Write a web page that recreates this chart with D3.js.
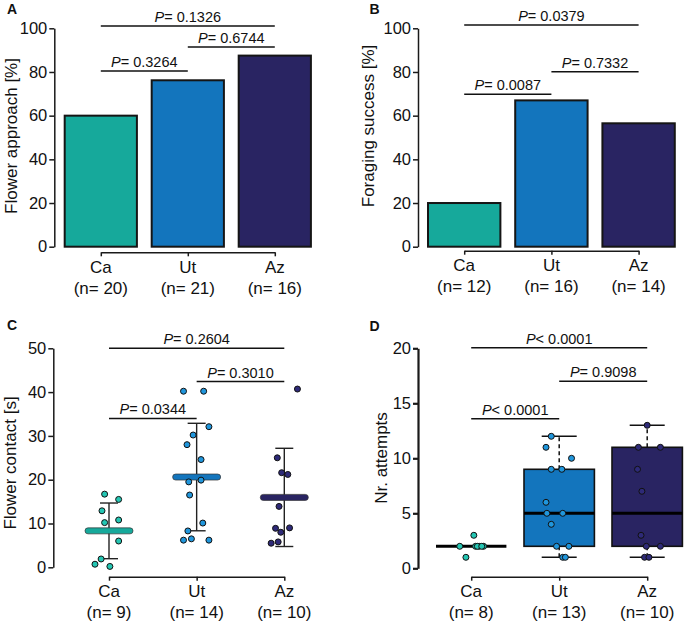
<!DOCTYPE html>
<html>
<head>
<meta charset="utf-8">
<script src="https://cdn.jsdelivr.net/npm/d3@7"></script>
<style>
body{margin:0;background:#fff}
text{font-family:"Liberation Sans",Arial,Helvetica,sans-serif;fill:#111}
</style>
</head>
<body>
<svg id="fig" width="686" height="625"></svg>
<script>
var cats = ["Ca","Ut","Az"];
var barColors = ["#16a99b","#1375bd","#292462"];
var dotColors = ["#24c6b3","#2096dc","#2e2a78"];

// A - flower approach (%)
var nA = [20,21,16];
var approach = [60,76.2,87.5];
var sigA = [[0,1,"= 0.3264",80.4],[1,2,"= 0.6744",91.4],[0,2,"= 0.1326",101]];

// B - foraging success (%)
var nB = [12,16,14];
var success = [20,67,56.5];
var sigB = [[0,1,"= 0.0087",69.8],[1,2,"= 0.7332",80.1],[0,2,"= 0.0379",101.5]];

// C - flower contact (s)
var nC = [9,14,10];
var contactCa = [16.7,15.5,12.9,10.2,10.8,6.0,1.9,0.7,0.2];
var contactUt = [40.2,40.2,32.1,30.2,28.0,24.6,19.5,19.9,16.5,10.1,8.3,6.2,6.5,6.2];
var contactAz = [40.7,25.0,21.6,21.2,13.9,8.9,9.0,8.0,5.5,5.8];
var sigC = [[0,1,"= 0.0344",34],[1,2,"= 0.3010",42.4],[0,2,"= 0.2604",50]];
// horizontal spread of the dots, fraction of category step
var jitCa = [-0.05,0.11,-0.08,-0.05,0.11,0.11,-0.09,-0.16,0.01];
var jitUt = [-0.15,0.08,0.14,-0.04,-0.11,0.05,-0.09,0.05,-0.08,0.07,-0.10,-0.15,-0.06,0.14];
var jitAz = [0.15,-0.08,-0.03,0.04,-0.06,-0.10,0.06,-0.04,-0.15,-0.07];

// D - number of attempts
var nD = [8,13,10];
var attCa = [3,2,2,2,2,2,2,1];
var attUt = [12,11,10,9,9,6,5,5,4,2,2,1,1];
var attAz = [13,11,11,9,7,3,2,2,1,1];
var sigD = [[0,1,"< 0.0001",13.6],[1,2,"= 0.9098",17],[0,2,"< 0.0001",20.05]];
var jitDCa = [0.03,-0.13,0.05,0.09,0.14,0.07,0.12,-0.06];
var jitDUt = [-0.09,-0.15,0.14,-0.09,0.03,-0.15,-0.14,0.04,-0.09,-0.03,0.11,0.04,0.07];
var jitDAz = [0,-0.10,0.15,-0.11,-0.06,-0.07,-0.01,0.15,-0.03,0.02];

var svg = d3.select("#fig");

function yAxis(x, y, vals, w){
    var g = svg.append("g").attr("transform","translate("+x+",0)")
        .call(d3.axisLeft(y).tickValues(vals).tickSize(5).tickSizeOuter(0).tickPadding(2));
    g.select(".domain").attr("stroke","#1a1a1a").attr("stroke-width",w);
    g.selectAll(".tick line").attr("stroke","#1a1a1a").attr("stroke-width",w);
    g.selectAll(".tick text").style("font-size","16.5px").attr("fill","#111");
}

function xAxis(xc, yPos, ns){
    var g = svg.append("g").attr("transform","translate(0,"+yPos+")")
        .call(d3.axisBottom(xc).tickSize(4).tickSizeOuter(0).tickFormat(""));
    g.select(".domain").attr("stroke","#1a1a1a").attr("stroke-width",1.5);
    g.selectAll(".tick line").attr("stroke","#1a1a1a").attr("stroke-width",1.5);
    cats.forEach(function(c,i){
        svg.append("text").attr("x",xc(c)).attr("y",yPos+20.5)
            .attr("text-anchor","middle").style("font-size","17px").text(c);
        svg.append("text").attr("x",xc(c)).attr("y",yPos+41.5)
            .attr("text-anchor","middle").style("font-size","17px").text("(n= "+ns[i]+")");
    });
}

function sigBars(xc, y, list){
    list.forEach(function(s){
        var x1 = xc(cats[s[0]]), x2 = xc(cats[s[1]]), yy = y(s[3]);
        svg.append("line").attr("x1",x1).attr("x2",x2).attr("y1",yy).attr("y2",yy)
            .attr("stroke","#111").attr("stroke-width",1.5);
        var t = svg.append("text").attr("x",(x1+x2)/2).attr("y",yy-4)
            .attr("text-anchor","middle").style("font-size","14.5px");
        t.append("tspan").style("font-style","italic").text("P");
        t.append("tspan").text(s[2]);
    });
}

function yTitle(txt, cx, cy){
    svg.append("text").attr("transform","translate("+cx+","+cy+") rotate(-90)")
        .attr("text-anchor","middle").attr("dy","0.35em")
        .style("font-size","17px").text(txt);
}

function letter(t, x, y){
    svg.append("text").attr("x",x).attr("y",y).style("font-size","14px")
        .style("font-weight","bold").text(t);
}

function barPanel(vals, ns, sig, xr, yBottom, axisX, axisY, title, tx, ty){
    var x = d3.scaleBand().domain(cats).range(xr).paddingInner(0.17).paddingOuter(0.085);
    var y = d3.scaleLinear().domain([0,100]).range([yBottom,28.3]);
    var xc = d3.scalePoint().domain(cats)
        .range([x("Ca")+x.bandwidth()/2, x("Az")+x.bandwidth()/2]);
    svg.append("g").selectAll("rect").data(vals).join("rect")
        .attr("x",function(d,i){ return x(cats[i]); })
        .attr("y",function(d){ return y(d); })
        .attr("width",x.bandwidth())
        .attr("height",function(d){ return y(0)-y(d); })
        .attr("fill",function(d,i){ return barColors[i]; })
        .attr("stroke","#151515").attr("stroke-width",2);
    yAxis(axisX, y, [0,20,40,60,80,100], 1.5);
    xAxis(xc, axisY, ns);
    sigBars(xc, y, sig);
    yTitle(title, tx, ty);
}

// ---- A ----
barPanel(approach, nA, sigA, [57.3,318.3], 246.7, 54.3, 252.3, "Flower approach [%]", 11, 136);
letter("A", 7, 14);

// ---- B ----
barPanel(success, nB, sigB, [420.6,682.2], 246.7, 418, 250.7, "Foraging success [%]", 368, 126);
letter("B", 369.5, 13.5);

// ---- C ----
(function(){
    var groups = [contactCa, contactUt, contactAz];
    var jits = [jitCa, jitUt, jitAz];
    var xc = d3.scalePoint().domain(cats).range([109,284.3]);
    var step = xc.step();
    var y = d3.scaleLinear().domain([0,50]).range([567.3,348.3]);
    yAxis(53.3, y, [0,10,20,30,40,50], 1.5);
    xAxis(xc, 576.7, nC);
    groups.forEach(function(vals,i){
        var cx = xc(cats[i]);
        var m = d3.mean(vals), sd = d3.deviation(vals);
        var g = svg.append("g");
        g.append("line").attr("x1",cx).attr("x2",cx).attr("y1",y(m+sd)).attr("y2",y(m-sd))
            .attr("stroke","#222").attr("stroke-width",1.4);
        [m+sd, m-sd].forEach(function(v){
            g.append("line").attr("x1",cx-9).attr("x2",cx+9).attr("y1",y(v)).attr("y2",y(v))
                .attr("stroke","#222").attr("stroke-width",1.4);
        });
        g.append("rect").attr("x",cx-24).attr("y",y(m)-3).attr("width",48).attr("height",6)
            .attr("rx",3).attr("fill",barColors[i]).attr("stroke","#333").attr("stroke-width",0.7);
        g.selectAll("circle").data(vals).join("circle")
            .attr("cx",function(d,k){ return cx + jits[i][k]*step; })
            .attr("cy",function(d){ return y(d); })
            .attr("r",3)
            .attr("fill",dotColors[i]).attr("stroke","#111").attr("stroke-width",1);
    });
    sigBars(xc, y, sigC);
    yTitle("Flower contact [s]", 10.5, 463);
    letter("C", 7, 330);
})();

// ---- D ----
function fivenum(a){
    var s = a.slice().sort(d3.ascending), n = s.length;
    var q1 = d3.median(s.slice(0, Math.ceil(n/2)));
    var q3 = d3.median(s.slice(Math.floor(n/2)));
    var iqr = q3 - q1;
    return {
        q1: q1, med: d3.median(s), q3: q3,
        lo: d3.min(s.filter(function(v){ return v >= q1 - 1.5*iqr; })),
        hi: d3.max(s.filter(function(v){ return v <= q3 + 1.5*iqr; }))
    };
}

(function(){
    var groups = [attCa, attUt, attAz];
    var jits = [jitDCa, jitDUt, jitDAz];
    var x = d3.scaleBand().domain(cats).range([427.2,691.2]).paddingInner(0.2).paddingOuter(0.1);
    var bw = x.bandwidth();
    var xc = d3.scalePoint().domain(cats).range([x("Ca")+bw/2, x("Az")+bw/2]);
    var step = x.step();
    var y = d3.scaleLinear().domain([0,20]).range([568.3,348.3]);
    yAxis(418, y, [0,5,10,15,20], 2.2);
    xAxis(xc, 576.7, nD);
    groups.forEach(function(vals,i){
        var f = fivenum(vals), cx = xc(cats[i]), g = svg.append("g");
        [[f.q3,f.hi],[f.q1,f.lo]].forEach(function(w){
            g.append("line").attr("x1",cx).attr("x2",cx).attr("y1",y(w[0])).attr("y2",y(w[1]))
                .attr("stroke","#111").attr("stroke-width",1.5).attr("stroke-dasharray","4,3");
        });
        [f.hi, f.lo].forEach(function(v){
            g.append("line").attr("x1",cx-17.5).attr("x2",cx+17.5).attr("y1",y(v)).attr("y2",y(v))
                .attr("stroke","#111").attr("stroke-width",1.5);
        });
        g.append("rect").attr("x",x(cats[i])).attr("y",y(f.q3)).attr("width",bw)
            .attr("height",y(f.q1)-y(f.q3))
            .attr("fill",barColors[i]).attr("stroke","#111").attr("stroke-width",1.6);
        g.append("line").attr("x1",x(cats[i])).attr("x2",x(cats[i])+bw)
            .attr("y1",y(f.med)).attr("y2",y(f.med))
            .attr("stroke","#000").attr("stroke-width",3);
        g.selectAll("circle").data(vals).join("circle")
            .attr("cx",function(d,k){ return cx + jits[i][k]*step; })
            .attr("cy",function(d){ return y(d); })
            .attr("r",3)
            .attr("fill",dotColors[i]).attr("stroke","#111").attr("stroke-width",1);
    });
    sigBars(xc, y, sigD);
    yTitle("Nr. attempts", 381, 458);
    letter("D", 369.5, 330.5);
})();
</script>
</body>
</html>
